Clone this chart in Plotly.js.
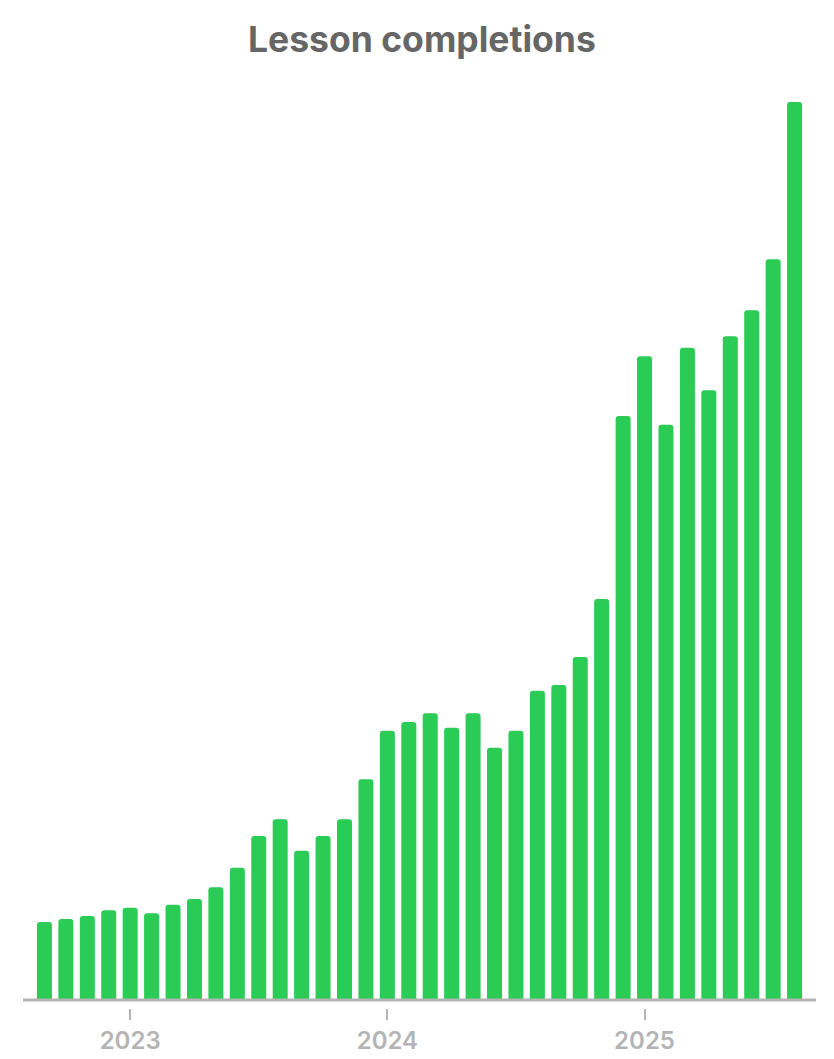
<!DOCTYPE html>
<html>
<head>
<meta charset="utf-8">
<script src="https://cdn.plot.ly/plotly-3.0.1.min.js"></script>
<style>
  html, body { margin: 0; padding: 0; background: #ffffff; }
  #chart { width: 834px; height: 1059px; }
</style>
</head>
<body>
<div id="chart"></div>
<script>
const months = [
  "2022-09","2022-10","2022-11","2022-12",
  "2023-01","2023-02","2023-03","2023-04","2023-05","2023-06",
  "2023-07","2023-08","2023-09","2023-10","2023-11","2023-12",
  "2024-01","2024-02","2024-03","2024-04","2024-05","2024-06",
  "2024-07","2024-08","2024-09","2024-10","2024-11","2024-12",
  "2025-01","2025-02","2025-03","2025-04","2025-05","2025-06",
  "2025-07","2025-08"
];
const completions = [
  780, 810, 840, 897,
  923, 867, 953, 1010, 1127, 1323,
  1640, 1807, 1493, 1640, 1807, 2207,
  2693, 2780, 2867, 2723, 2867, 2523,
  2693, 3093, 3150, 3430, 4010, 5840,
  6437, 5753, 6523, 6097, 6637, 6897,
  7407, 8980
];
const tickMonths = ["2023-01", "2024-01", "2025-01"];
const tickLabels = ["2023", "2024", "2025"];

const trace = {
  type: "bar",
  x: months,
  y: completions,
  marker: { color: "#2acc56", line: { width: 0 } },
  hoverinfo: "x+y"
};

const layout = {
  width: 834,
  height: 1059,
  margin: { l: 23, r: 18, t: 90, b: 51 },
  paper_bgcolor: "#ffffff",
  plot_bgcolor: "#ffffff",
  showlegend: false,
  bargap: 0.3,
  barcornerradius: 3,
  title: {
    text: "<b>Lesson completions</b>",
    font: { family: "Inter, 'Noto Sans', sans-serif", size: 35.5, color: "#666666" },
    x: 0.503,
    xref: "paper",
    xanchor: "center",
    y: 0.963,
    yref: "container",
    yanchor: "middle"
  },
  xaxis: {
    type: "category",
    range: [-1, 36],
    showgrid: false,
    zeroline: false,
    showline: false,
    ticks: "outside",
    ticklen: 11,
    tickwidth: 2,
    tickcolor: "#b4b4b4",
    tickvals: tickMonths,
    ticktext: tickLabels,
    tickfont: { family: "Inter, 'Noto Sans', sans-serif", size: 24, weight: 600, color: "#b4b4b4" },
    fixedrange: true
  },
  yaxis: {
    range: [-80, 9100],
    visible: false,
    showgrid: false,
    zeroline: false,
    fixedrange: true
  },
  shapes: [{
    type: "line",
    xref: "paper", yref: "y",
    x0: 0, x1: 1, y0: 0, y1: 0,
    line: { color: "#b4b4b4", width: 3 },
    layer: "above"
  }]
};

Plotly.newPlot("chart", [trace], layout, { displayModeBar: false, staticPlot: true });
</script>
</body>
</html>
